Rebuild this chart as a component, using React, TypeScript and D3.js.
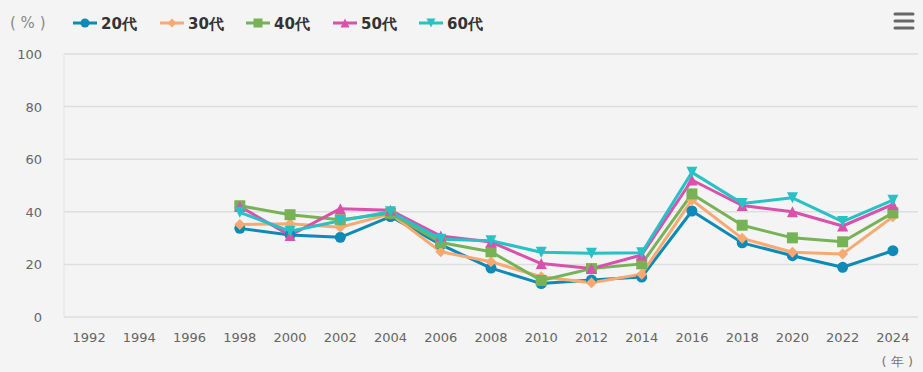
import React from "react";
import * as d3 from "d3";

const years = [
  "1992", "1994", "1996", "1998", "2000", "2002", "2004", "2006", "2008",
  "2010", "2012", "2014", "2016", "2018", "2020", "2022", "2024",
];

// null = no survey that year
const age20 = [null, null, null, 33.7, 31.2, 30.3, 38.2, 27.5, 18.6, 12.7, 14.1, 15.2, 40.3, 28.2, 23.3, 18.9, 25.2];
const age30 = [null, null, null, 35.2, 35.5, 34.1, 39.2, 24.8, 21.0, 15.3, 13.0, 16.3, 44.5, 29.9, 24.6, 24.0, 38.1];
const age40 = [null, null, null, 42.3, 38.9, 37.0, 39.4, 28.3, 24.8, 13.9, 18.4, 20.2, 46.8, 34.9, 30.1, 28.6, 39.6];
const age50 = [null, null, null, 42.0, 31.0, 41.2, 40.6, 30.8, 28.5, 20.3, 18.4, 23.6, 52.1, 42.4, 40.0, 34.6, 42.8];
const age60 = [null, null, null, 39.8, 32.6, 36.6, 40.0, 29.6, 29.0, 24.6, 24.2, 24.4, 55.0, 43.2, 45.3, 36.3, 44.4];

const yTicks = [0, 20, 40, 60, 80, 100];

const seriesList = [
  { name: "20代", values: age20, color: "#0e8ab8", marker: "circle" },
  { name: "30代", values: age30, color: "#f8a972", marker: "diamond" },
  { name: "40代", values: age40, color: "#78b256", marker: "square" },
  { name: "50代", values: age50, color: "#da50ad", marker: "triangle" },
  { name: "60代", values: age60, color: "#27c1c6", marker: "triangle-down" },
];

const W = 923;
const H = 372;
const margin = { top: 54, right: 5, bottom: 55, left: 64 };

// marker path around (x, y), r = half size
function markerPath(type: string, x: number, y: number, r: number) {
  if (type === "circle") {
    return `M${x - r},${y}a${r},${r} 0 1,0 ${2 * r},0a${r},${r} 0 1,0 ${-2 * r},0Z`;
  }
  if (type === "square") {
    return `M${x - r},${y - r}h${2 * r}v${2 * r}h${-2 * r}Z`;
  }
  if (type === "diamond") {
    return `M${x},${y - r}L${x + r},${y}L${x},${y + r}L${x - r},${y}Z`;
  }
  if (type === "triangle") {
    return `M${x},${y - r}L${x + r},${y + r}L${x - r},${y + r}Z`;
  }
  return `M${x - r},${y - r}L${x + r},${y - r}L${x},${y + r}Z`;
}

export default function App() {
  const x = d3
    .scaleBand()
    .domain(years)
    .range([margin.left, W - margin.right]);

  const y = d3
    .scaleLinear()
    .domain([0, 100])
    .range([H - margin.bottom, margin.top]);

  const cx = (yr: string) => (x(yr) as number) + x.bandwidth() / 2;

  const line = d3
    .line<number | null>()
    .defined((d) => d !== null)
    .x((_, i) => cx(years[i]))
    .y((d) => y(d as number));

  const font = "'DejaVu Sans', sans-serif";
  const legendX = [73, 160, 246, 333, 419];

  return (
    <svg
      width={W}
      height={H}
      style={{ position: "absolute", left: 0, top: 0, background: "#f4f4f4" }}
      fontFamily={font}
    >
      {/* grid */}
      {yTicks.map((t) => (
        <line
          key={t}
          x1={margin.left}
          x2={W - margin.right}
          y1={y(t)}
          y2={y(t)}
          stroke="#dedede"
          strokeWidth={1.5}
        />
      ))}
      <line
        x1={margin.left}
        x2={margin.left}
        y1={y(100)}
        y2={y(0)}
        stroke="#e2e2e2"
        strokeWidth={1}
      />

      {/* y labels */}
      {yTicks.map((t) => (
        <text
          key={t}
          x={42}
          y={y(t) + 5}
          textAnchor="end"
          fontSize={13}
          fill="#666"
        >
          {t}
        </text>
      ))}

      {/* x labels */}
      {years.map((yr) => (
        <text
          key={yr}
          x={cx(yr)}
          y={342}
          textAnchor="middle"
          fontSize={13}
          fill="#666"
        >
          {yr}
        </text>
      ))}
      <text x={913} y={366} textAnchor="end" fontSize={13} fill="#777">
        ( 年 )
      </text>

      {/* lines */}
      {seriesList.map((s) => (
        <path
          key={s.name}
          d={line(s.values) as string}
          fill="none"
          stroke={s.color}
          strokeWidth={3}
          strokeLinejoin="round"
        />
      ))}

      {/* markers */}
      {seriesList.map((s) =>
        s.values.map((v, i) =>
          v === null ? null : (
            <path
              key={s.name + i}
              d={markerPath(s.marker, cx(years[i]), y(v), 5.5)}
              fill={s.color}
            />
          )
        )
      )}

      {/* legend */}
      <text x={10} y={28} fontSize={15} fill="#888">
        ( % )
      </text>
      {seriesList.map((s, i) => (
        <g key={s.name}>
          <line
            x1={legendX[i]}
            x2={legendX[i] + 24}
            y1={23}
            y2={23}
            stroke={s.color}
            strokeWidth={3}
          />
          <path d={markerPath(s.marker, legendX[i] + 12, 23, 4.5)} fill={s.color} />
          <text
            x={legendX[i] + 28}
            y={29}
            fontSize={15}
            fontWeight="bold"
            fill="#333"
          >
            {s.name}
          </text>
        </g>
      ))}

      {/* menu icon */}
      {[14, 21, 28].map((yy) => (
        <line
          key={yy}
          x1={895}
          x2={913}
          y1={yy}
          y2={yy}
          stroke="#666"
          strokeWidth={3}
          strokeLinecap="round"
        />
      ))}
    </svg>
  );
}
